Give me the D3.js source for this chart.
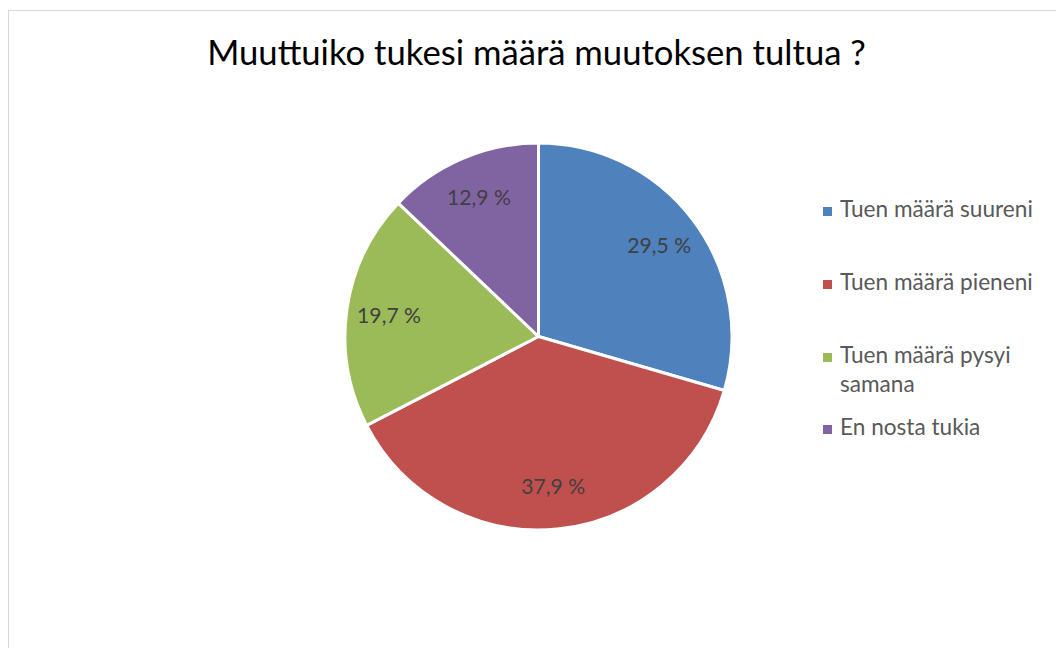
<!DOCTYPE html>
<html>
<head>
<meta charset="utf-8">
<script src="https://cdn.jsdelivr.net/npm/d3@7"></script>
<style>
html,body{margin:0;padding:0;background:#fff;}
svg{display:block;}
text{font-family:Lato,"Open Sans",sans-serif;}
</style>
</head>
<body>
<svg id="chart" width="1056" height="648"></svg>
<script>
const title = "Muuttuiko tukesi määrä muutoksen tultua ?";
const categories = ["Tuen määrä suureni", "Tuen määrä pieneni", "Tuen määrä pysyi samana", "En nosta tukia"];
const legendLines = [["Tuen määrä suureni"], ["Tuen määrä pieneni"], ["Tuen määrä pysyi", "samana"], ["En nosta tukia"]];
const values = [29.5, 37.9, 19.7, 12.9];
const valueLabels = ["29,5 %", "37,9 %", "19,7 %", "12,9 %"];
const colors = ["#4F81BD", "#C0504D", "#9BBB59", "#8064A2"];

const svg = d3.select("#chart");
const W = 1056, H = 648;

svg.append("rect").attr("x", 8.5).attr("y", 10.5).attr("width", 1200).attr("height", 800)
  .attr("fill", "#fff").attr("stroke", "#d9d9d9").attr("stroke-width", 1);

function fitText(sel, targetWidth, baseSize) {
  sel.attr("font-size", baseSize);
  const w = sel.node().getComputedTextLength();
  const s = baseSize * targetWidth / w;
  sel.attr("font-size", s);
  return s;
}

const t = svg.append("text").attr("x", 536.5).attr("y", 65).attr("text-anchor", "middle")
  .attr("fill", "#000").text(title);
fitText(t, 659, 32);

const cx = 538.5, cy = 336.5, r = 193.5;
const pie = d3.pie().sort(null).value(d => d)(values);
const arc = d3.arc().innerRadius(0).outerRadius(r);
const labelArc = d3.arc().innerRadius(r * 0.78).outerRadius(r * 0.78);

const g = svg.append("g").attr("transform", `translate(${cx},${cy})`);
g.selectAll("path.slice").data(pie).join("path").attr("class", "slice")
  .attr("d", arc).attr("fill", (d, i) => colors[i])
  .attr("stroke", "#fff").attr("stroke-width", 3).attr("stroke-linejoin", "round");

// label size: fit first label to width 64
const tmp = svg.append("text").text(valueLabels[0]);
const labSize = fitText(tmp, 64, 22);
tmp.remove();

g.selectAll("text.lab").data(pie).join("text").attr("class", "lab")
  .attr("transform", d => `translate(${labelArc.centroid(d)})`)
  .attr("text-anchor", "middle").attr("dy", "0.35em")
  .attr("font-size", labSize).attr("fill", "#404040")
  .text((d, i) => valueLabels[i]);

// legend
const tmp2 = svg.append("text").text(legendLines[0][0]);
const legSize = fitText(tmp2, 193, 20);
tmp2.remove();

const baselines = [217, 290, 363, 435];
const leg = svg.append("g");
categories.forEach((c, i) => {
  leg.append("rect").attr("x", 823).attr("y", baselines[i] - 10).attr("width", 9).attr("height", 9)
    .attr("fill", colors[i]);
  const tx = leg.append("text").attr("x", 840).attr("y", baselines[i])
    .attr("font-size", legSize).attr("fill", "#595959");
  legendLines[i].forEach((line, j) => {
    tx.append("tspan").attr("x", 840).attr("dy", j === 0 ? 0 : 29).text(line);
  });
});
</script>
</body>
</html>
